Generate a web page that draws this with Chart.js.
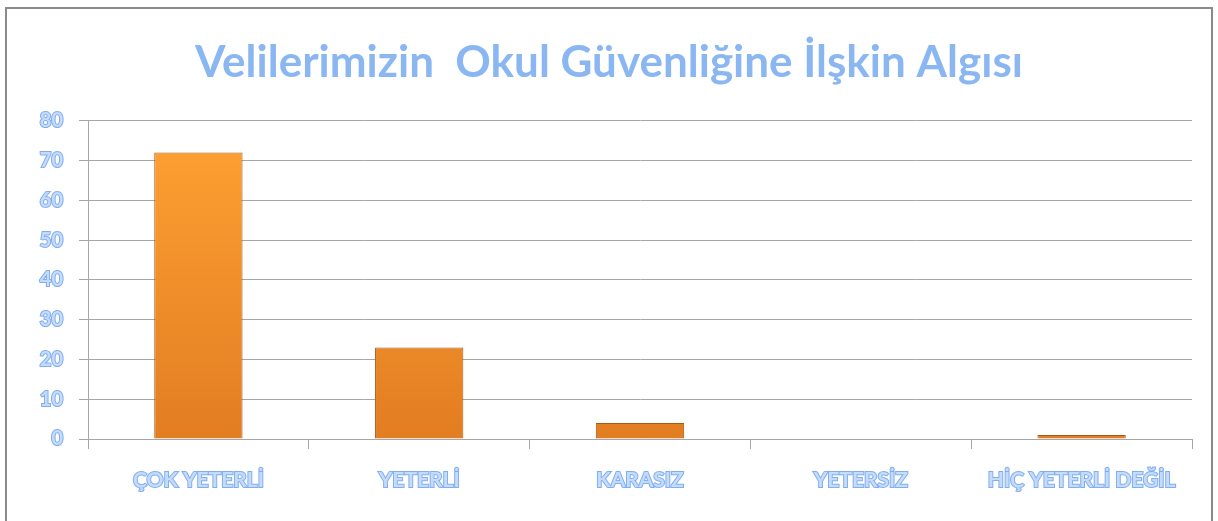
<!DOCTYPE html>
<html>
<head>
<meta charset="utf-8">
<script src="https://cdn.jsdelivr.net/npm/chart.js@4/dist/chart.umd.min.js"></script>
<style>
  html, body { margin: 0; padding: 0; background: #fff; }
  body { width: 1218px; height: 521px; overflow: hidden; position: relative; }
  .frame { position: absolute; left: 5px; top: 7px; width: 1208px; height: 530px; border: 2px solid #8a8a8a; box-sizing: border-box; }
  #chart { position: absolute; left: 0; top: 0; }
</style>
</head>
<body>
<div class="frame"></div>
<canvas id="chart" width="1218" height="521"></canvas>
<script>
const chartTitle = 'Velilerimizin  Okul Güvenliğine İlşkin Algısı';
const categories = ['ÇOK YETERLİ', 'YETERLİ', 'KARASIZ', 'YETERSİZ', 'HİÇ YETERLİ DEĞİL'];
const values = [72, 23, 4, 0, 1];
const yTicks = [0, 10, 20, 30, 40, 50, 60, 70, 80];

const textBlue = '#80aef0';
const textFill = '#c4dbfa';
const gridGray = '#a6a6a6';
const fontFamily = 'Lato, "Open Sans", sans-serif';

document.addEventListener('DOMContentLoaded', () => {
    const ctx = document.getElementById('chart').getContext('2d');

    function barFill(context) {
        const area = context.chart.chartArea;
        if (!area) return '#f39227';
        const g = context.chart.ctx.createLinearGradient(0, area.top, 0, area.bottom);
        g.addColorStop(0, '#ffa233');
        g.addColorStop(1, '#e27d22');
        return g;
    }

    new Chart(ctx, {
        type: 'bar',
        data: {
            labels: categories,
            datasets: [{
                data: values,
                backgroundColor: barFill,
                borderColor: '#a95a18',
                borderWidth: 1,
                categoryPercentage: 1,
                barPercentage: 0.4
            }]
        },
        options: {
            responsive: false,
            animation: false,
            layout: { padding: { left: 26, right: 26, top: 0, bottom: 0 } },
            plugins: {
                legend: { display: false },
                tooltip: { enabled: false },
                title: {
                    display: true,
                    text: chartTitle,
                    color: '#8ab7f2',
                    font: { family: fontFamily, size: 44, weight: 'bold', lineHeight: 1.2 },
                    padding: { top: 36, bottom: 32 }
                }
            },
            scales: {
                x: {
                    grid: {
                        offset: true,
                        drawOnChartArea: false,
                        tickLength: 10,
                        color: gridGray
                    },
                    border: { color: gridGray },
                    ticks: {
                        color: textFill,
                        textStrokeColor: textBlue,
                        textStrokeWidth: 2,
                        font: { family: fontFamily, size: 21, weight: 'bold' },
                        padding: 19,
                        maxRotation: 0
                    },
                    afterFit: axis => { axis.height = 82; }
                },
                y: {
                    min: 0,
                    max: 80,
                    afterBuildTicks: axis => { axis.ticks = yTicks.map(v => ({ value: v })); },
                    grid: { color: gridGray, tickLength: 9 },
                    border: { color: gridGray },
                    ticks: {
                        color: textFill,
                        textStrokeColor: textBlue,
                        textStrokeWidth: 2,
                        font: { family: fontFamily, size: 20, weight: 'bold' },
                        padding: 16
                    },
                    afterFit: axis => { axis.width = 62; }
                }
            }
        }
    });
});
</script>
</body>
</html>
